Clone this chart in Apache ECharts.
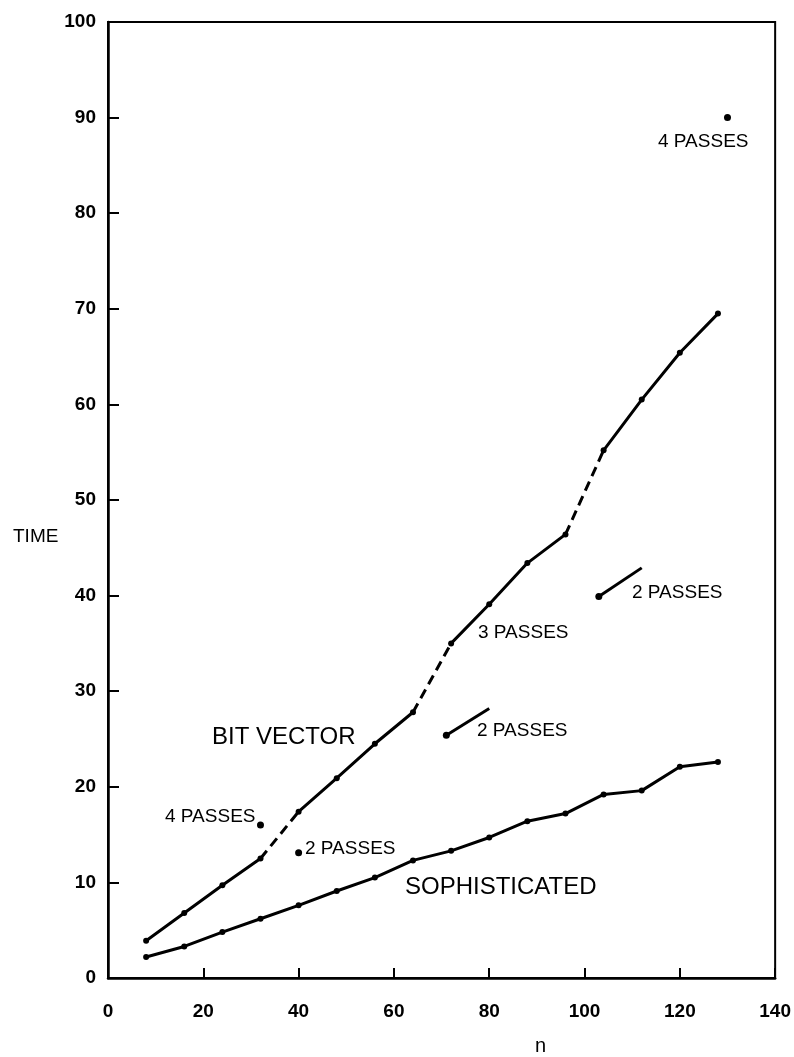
<!DOCTYPE html>
<html>
<head>
<meta charset="utf-8">
<script src="https://cdn.jsdelivr.net/npm/echarts@6/dist/echarts.min.js"></script>
<style>
  html, body { margin: 0; padding: 0; background: #fff; }
  #chart { width: 794px; height: 1057px; }
</style>
</head>
<body>
<div id="chart"></div>
<script>
  // n values shared by both curves
  var nValues = [8, 16, 24, 32, 40, 48, 56, 64, 72, 80, 88, 96, 104, 112, 120, 128];
  var bitVector = [3.9, 6.8, 9.7, 12.5, 17.4, 20.9, 24.5, 27.8, 35.0, 39.1, 43.4, 46.4, 55.2, 60.5, 65.4, 69.5];
  var sophisticated = [2.2, 3.3, 4.8, 6.2, 7.6, 9.1, 10.5, 12.3, 13.3, 14.7, 16.4, 17.2, 19.2, 19.6, 22.1, 22.6];
  // bit vector segment that starts at these n is dashed
  var dashedFrom = [32, 64, 96];

  // short "2 PASSES" lines and single points
  var twoPassLow = [[71, 25.4], [80, 28.2]];
  var twoPassHigh = [[103, 39.9], [112, 42.9]];
  var singlePoints = [[32, 16.0], [40, 13.1], [130, 90.0]];

  var xTicks = [0, 20, 40, 60, 80, 100, 120, 140];
  var yTicks = [0, 10, 20, 30, 40, 50, 60, 70, 80, 90, 100];

  var font = '"Liberation Sans", Arial, sans-serif';
  var lineW = 3;

  var myChart = echarts.init(document.getElementById('chart'));

  var series = [];

  // split bit vector into solid and dashed runs
  var run = [];
  for (var i = 0; i < nValues.length; i++) {
    run.push([nValues[i], bitVector[i]]);
    if (dashedFrom.indexOf(nValues[i]) >= 0 || i === nValues.length - 1) {
      series.push({
        type: 'line', data: run, symbol: 'circle', symbolSize: 6,
        lineStyle: { color: '#000', width: lineW }, itemStyle: { color: '#000' },
        animation: false
      });
      if (i < nValues.length - 1) {
        series.push({
          type: 'line', data: [[nValues[i], bitVector[i]], [nValues[i + 1], bitVector[i + 1]]],
          showSymbol: false,
          lineStyle: { color: '#000', width: lineW, type: [10, 6] },
          animation: false
        });
      }
      run = [];
    }
  }

  series.push({
    type: 'line',
    data: nValues.map(function (n, k) { return [n, sophisticated[k]]; }),
    symbol: 'circle', symbolSize: 6,
    lineStyle: { color: '#000', width: lineW }, itemStyle: { color: '#000' },
    animation: false
  });

  [twoPassLow, twoPassHigh].forEach(function (seg) {
    series.push({
      type: 'line',
      data: [{ value: seg[0], symbolSize: 7 }, { value: seg[1], symbolSize: 0 }],
      symbol: 'circle',
      lineStyle: { color: '#000', width: lineW }, itemStyle: { color: '#000' },
      animation: false
    });
  });

  series.push({
    type: 'scatter', data: singlePoints, symbol: 'circle', symbolSize: 7,
    itemStyle: { color: '#000', opacity: 1 }, animation: false
  });

  function label(text, left, cy, size) {
    return {
      type: 'text', left: left, top: cy - size / 2,
      style: { text: text, font: size + 'px ' + font, fill: '#000' }
    };
  }

  var option = {
    backgroundColor: '#fff',
    grid: {
      left: 108, right: 13, top: 22, bottom: 79,
      show: true, borderColor: '#000', borderWidth: 2
    },
    xAxis: {
      type: 'value', min: xTicks[0], max: xTicks[xTicks.length - 1], interval: 20,
      axisLine: { lineStyle: { color: '#000', width: 2.5 } },
      axisTick: { inside: true, length: 10, lineStyle: { color: '#000', width: 2 } },
      axisLabel: { color: '#000', fontFamily: font, fontSize: 19, fontWeight: 'bold', margin: 24 },
      splitLine: { show: false }
    },
    yAxis: {
      type: 'value', min: yTicks[0], max: yTicks[yTicks.length - 1], interval: 10,
      axisLine: { lineStyle: { color: '#000', width: 2.5 } },
      axisTick: { inside: true, length: 11, lineStyle: { color: '#000', width: 2 } },
      axisLabel: { color: '#000', fontFamily: font, fontSize: 19, fontWeight: 'bold', margin: 12 },
      splitLine: { show: false }
    },
    graphic: [
      label('TIME', 13, 537, 19),
      label('n', 535, 1046, 20),
      label('4 PASSES', 658, 142, 19),
      label('3 PASSES', 478, 633, 19),
      label('2 PASSES', 632, 593, 19),
      label('2 PASSES', 477, 731, 19),
      label('BIT VECTOR', 212, 737, 24),
      label('4 PASSES', 165, 817, 19),
      label('2 PASSES', 305, 849, 19),
      label('SOPHISTICATED', 405, 887, 24)
    ],
    series: series
  };

  myChart.setOption(option);
</script>
</body>
</html>
